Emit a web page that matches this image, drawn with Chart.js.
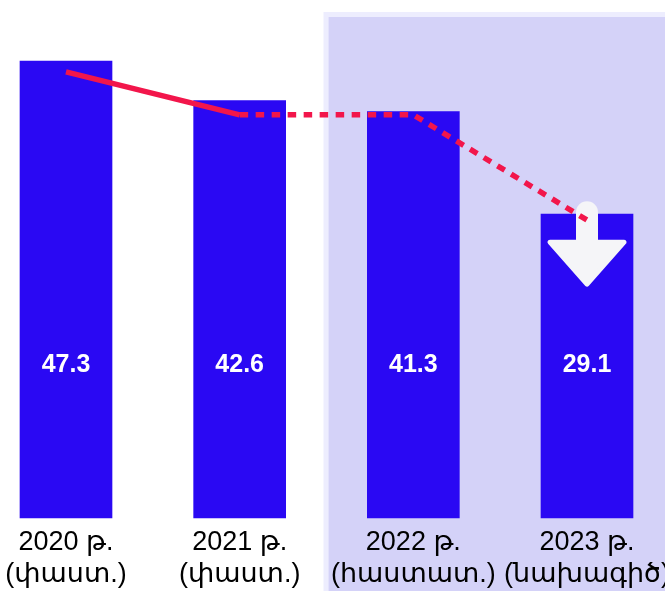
<!DOCTYPE html>
<html>
<head>
<meta charset="utf-8">
<script src="https://cdn.jsdelivr.net/npm/chart.js@4.4.1/dist/chart.umd.min.js"></script>
<style>
  html, body { margin: 0; padding: 0; background: #ffffff; }
  #wrap { width: 665px; height: 591px; position: relative; }
</style>
</head>
<body>
<div id="wrap"><canvas id="c" width="665" height="591"></canvas></div>
<script>
// ---- data ----
const categories = [
  ["2020 թ.", "(փաստ.)"],
  ["2021 թ.", "(փաստ.)"],
  ["2022 թ.", "(հաստատ.)"],
  ["2023 թ.", "(նախագիծ)"]
];
const values = [47.3, 42.6, 41.3, 29.1];
const trendValues = [46.0, 40.9, 40.9, 28.4];
const valueLabels = ["47.3", "42.6", "41.3", "29.1"];
const axisMin = -7;
const axisMax = 53;

// ---- styles ----
const BAR_COLOR = '#2a08f3';
const LINE_COLOR = '#f2164b';
const FONT = '"Liberation Sans", Arial, "DejaVu Sans", sans-serif';

const decorPlugin = {
  id: 'decor',
  beforeDraw(chart) {
    const { ctx, chartArea, scales } = chart;
    const x0 = (scales.x.getPixelForValue(1) + scales.x.getPixelForValue(2)) / 2 + 2;
    const top = chartArea.top + 4;
    ctx.save();
    // pale outer rim
    ctx.fillStyle = 'rgba(215,215,252,0.45)';
    ctx.fillRect(x0 - 5, top - 5, chart.width - x0 + 5, 5);
    ctx.fillRect(x0 - 5, top, 5, chart.height - top);
    // shaded zone
    ctx.fillStyle = 'rgba(160,155,240,0.45)';
    ctx.fillRect(x0, top, chart.width - x0, chart.height - top);
    ctx.restore();
  },
  afterDatasetDraw(chart, args) {
    if (args.index !== 1) return;
    const { ctx } = chart;
    const meta = chart.getDatasetMeta(1);
    const baseY = meta.data[0].base;
    ctx.save();
    // value labels
    ctx.fillStyle = '#ffffff';
    ctx.font = 'bold 25px ' + FONT;
    ctx.textAlign = 'center';
    ctx.textBaseline = 'middle';
    meta.data.forEach((bar, i) => {
      ctx.fillText(valueLabels[i], bar.x, baseY - 153);
    });
    // down arrow on last bar
    const last = meta.data[meta.data.length - 1];
    const cx = last.x, ty = last.y;
    ctx.fillStyle = '#f5f5f8';
    ctx.strokeStyle = '#f5f5f8';
    ctx.lineJoin = 'round';
    ctx.lineWidth = 5;
    ctx.beginPath();
    ctx.moveTo(cx - 11, ty + 30);
    ctx.lineTo(cx - 11, ty - 2);
    ctx.arc(cx, ty - 2, 11, Math.PI, 0);
    ctx.lineTo(cx + 11, ty + 30);
    ctx.closePath();
    ctx.fill();
    ctx.beginPath();
    ctx.moveTo(cx - 37, ty + 28);
    ctx.lineTo(cx + 37, ty + 28);
    ctx.lineTo(cx, ty + 70);
    ctx.closePath();
    ctx.fill();
    ctx.stroke();
    ctx.restore();
  }
};

new Chart(document.getElementById('c'), {
  data: {
    labels: categories,
    datasets: [
      {
        type: 'line',
        data: trendValues,
        borderColor: LINE_COLOR,
        borderWidth: 5.5,
        pointRadius: 0,
        tension: 0,
        fill: false,
        clip: false,
        order: 0,
        segment: {
          borderDash: c => c.p0DataIndex >= 1 ? [8.5, 7.5] : undefined
        }
      },
      {
        type: 'bar',
        data: values,
        backgroundColor: BAR_COLOR,
        barThickness: 92,
        base: axisMin,
        clip: false,
        order: 1
      }
    ]
  },
  options: {
    responsive: false,
    animation: false,
    events: [],
    layout: { padding: { left: 66, right: 78, top: 13, bottom: 0 } },
    plugins: { legend: { display: false }, tooltip: { enabled: false } },
    scales: {
      x: {
        type: 'category',
        offset: false,
        grid: { display: false, drawTicks: false },
        border: { display: false },
        ticks: {
          color: '#000000',
          font: { family: FONT, size: 27 },
          padding: 8,
          maxRotation: 0,
          autoSkip: false
        },
        afterFit(scale) {
          scale.paddingLeft = 0;
          scale.paddingRight = 0;
          scale.height = 73;
        }
      },
      y: {
        display: false,
        min: axisMin,
        max: axisMax
      }
    }
  },
  plugins: [decorPlugin]
});
</script>
</body>
</html>
